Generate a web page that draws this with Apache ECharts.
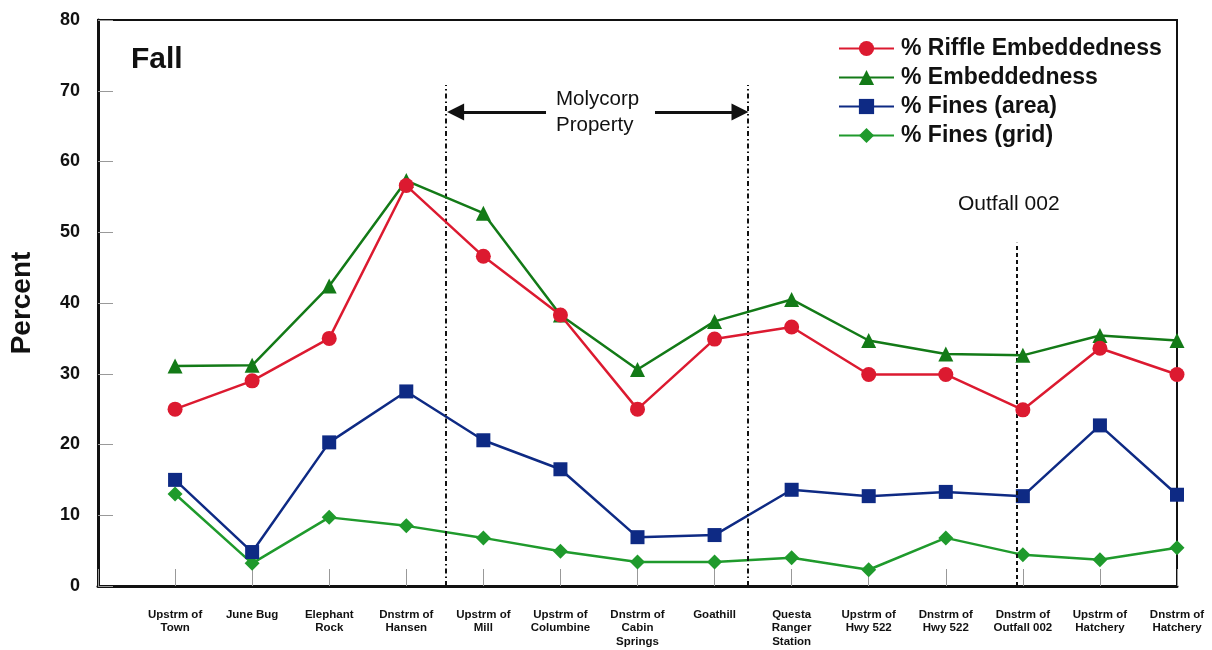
<!DOCTYPE html>
<html>
<head>
<meta charset="utf-8">
<script src="https://cdn.jsdelivr.net/npm/echarts@6/dist/echarts.min.js"></script>
<style>
    html, body { margin: 0; padding: 0; background: #fff; }
    #chart { width: 1212px; height: 650px; }
</style>
</head>
<body>
<div id="chart"></div>
<script>
// sampling sites (x axis)
const sites = [
    'Upstrm of\nTown', 'June Bug', 'Elephant\nRock', 'Dnstrm of\nHansen', 'Upstrm of\nMill',
    'Upstrm of\nColumbine', 'Dnstrm of\nCabin\nSprings', 'Goathill', 'Questa\nRanger\nStation',
    'Upstrm of\nHwy 522', 'Dnstrm of\nHwy 522', 'Dnstrm of\nOutfall 002', 'Upstrm of\nHatchery', 'Dnstrm of\nHatchery'
];
const seriesNames = ['% Riffle Embeddedness', '% Embeddedness', '% Fines (area)', '% Fines (grid)'];
const riffleEmbed = [25.0, 29.0, 35.0, 56.6, 46.6, 38.3, 25.0, 34.9, 36.6, 29.9, 29.9, 24.9, 33.6, 29.9];
const embed = [31.1, 31.2, 42.4, 57.3, 52.7, 38.3, 30.6, 37.4, 40.5, 34.7, 32.8, 32.6, 35.4, 34.7];
const finesArea = [15.0, 4.8, 20.3, 27.5, 20.6, 16.5, 6.9, 7.2, 13.6, 12.7, 13.3, 12.7, 22.7, 12.9];
const finesGrid = [13.0, 3.2, 9.7, 8.5, 6.8, 4.9, 3.4, 3.4, 4.0, 2.3, 6.8, 4.4, 3.7, 5.4];

const FONT = 'Arial, "Liberation Sans", sans-serif';
const black = '#111';

// x positions are site indexes, so turn each array into [index, value]
function pairs(arr) {
    return arr.map((v, i) => [i, v]);
}

function lineSeries(name, data, color, symbol, size, z) {
    return {
        name: name,
        type: 'line',
        data: pairs(data),
        symbol: symbol,
        symbolSize: size,
        z: z,
        lineStyle: { color: color, width: 2.5 },
        itemStyle: { color: color },
        emphasis: { disabled: true },
    };
}

const series = [
    lineSeries(seriesNames[0], riffleEmbed, '#dc1a30', 'circle', 15, 6),
    lineSeries(seriesNames[1], embed, '#137a17', 'triangle', 15, 5),
    lineSeries(seriesNames[2], finesArea, '#0e2a84', 'rect', 14, 4),
    lineSeries(seriesNames[3], finesGrid, '#1f9a2c', 'diamond', 15, 3),
];

// boundary lines and the Molycorp arrows
series[0].markLine = {
    silent: true,
    animation: false,
    label: { show: false },
    lineStyle: { color: black, width: 2, type: [5, 3, 1.5, 3] },
    data: [
        [{ coord: [3.515, 0], symbol: 'none' }, { coord: [3.515, 70.8], symbol: 'none' }],
        [{ coord: [7.434, 0], symbol: 'none' }, { coord: [7.434, 70.8], symbol: 'none' }],
        [{ coord: [10.92, 0], symbol: 'none', lineStyle: { type: [4, 3] } }, { coord: [10.92, 48.5], symbol: 'none' }],
        [{ coord: [4.813, 67.0], symbol: 'none', lineStyle: { type: 'solid', width: 3 } }, { coord: [3.64, 67.0], symbol: 'triangle', symbolSize: [17, 17] }],
        [{ coord: [6.227, 67.0], symbol: 'none', lineStyle: { type: 'solid', width: 3 } }, { coord: [7.33, 67.0], symbol: 'triangle', symbolSize: [17, 17] }],
    ],
};

const myChart = echarts.init(document.getElementById('chart'));
const option = {
    animation: false,
    textStyle: { fontFamily: FONT },
    title: {
        text: 'Fall',
        left: 126,
        top: 40,
        textStyle: { fontFamily: FONT, fontSize: 30, fontWeight: 'bold', color: black },
    },
    legend: {
        orient: 'vertical',
        left: 833,
        top: 32,
        itemWidth: 55,
        itemHeight: 19,
        itemGap: 6,
        data: seriesNames,
        textStyle: { fontFamily: FONT, fontSize: 23, fontWeight: 'bold', color: black, padding: [0, 0, 0, 2] },
    },
    grid: {
        left: 98,
        right: 35,
        top: 20,
        bottom: 64,
        show: true,
        borderColor: black,
        borderWidth: 2,
    },
    xAxis: {
        type: 'value',
        min: -1,
        max: 13,
        interval: 1,
        axisLine: { onZero: false, lineStyle: { color: black, width: 3 } },
        axisTick: { inside: true, length: 17, lineStyle: { color: '#999', width: 1 } },
        splitLine: { show: false },
        axisLabel: {
            margin: 22,
            fontFamily: FONT,
            fontSize: 11.5,
            fontWeight: 'bold',
            lineHeight: 13.5,
            color: black,
            formatter: (v) => sites[v] || '',
        },
    },
    yAxis: {
        type: 'value',
        min: 0,
        max: 80,
        interval: 10,
        name: 'Percent',
        nameLocation: 'middle',
        nameRotate: 90,
        nameGap: 62,
        nameTextStyle: { fontFamily: FONT, fontSize: 28, fontWeight: 'bold', color: black },
        axisLine: { show: true, onZero: false, lineStyle: { color: black, width: 3 } },
        axisTick: { inside: true, length: 15, lineStyle: { color: '#999', width: 1 } },
        splitLine: { show: false },
        axisLabel: { margin: 18, fontFamily: FONT, fontSize: 18, fontWeight: 'bold', color: black },
    },
    graphic: [
        {
            type: 'text',
            left: 556,
            top: 86,
            style: {
                text: 'Molycorp\nProperty',
                font: '20.5px ' + FONT,
                lineHeight: 26,
                fill: black,
                align: 'center',
            },
        },
        {
            type: 'text',
            left: 958,
            top: 194,
            style: { text: 'Outfall 002', font: '21px ' + FONT, fill: black },
        },
    ],
    series: series,
};
myChart.setOption(option);
</script>
</body>
</html>
